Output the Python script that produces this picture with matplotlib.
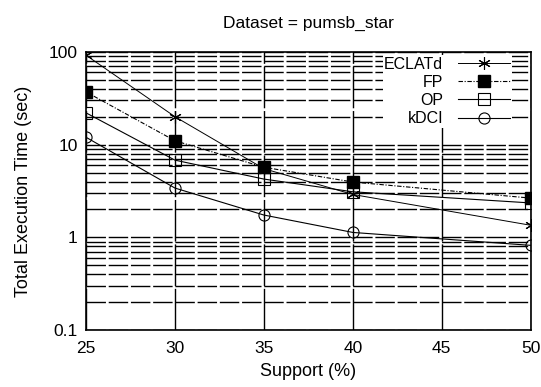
import matplotlib
matplotlib.use("Agg")
import matplotlib.pyplot as plt
from matplotlib.ticker import LogLocator, FixedLocator, NullFormatter

plt.rcParams['font.family'] = ['Liberation Sans', 'DejaVu Sans']

# data
support = [25, 30, 35, 40, 50]
eclatd = [92, 20, 5.5, 2.9, 1.35]
fp = [37, 11, 5.7, 3.95, 2.65]
op = [22, 6.8, 4.25, 3.1, 2.35]
kdci = [12, 3.4, 1.74, 1.13, 0.82]

x_ticks = [25, 30, 35, 40, 45, 50]
y_ticks = [0.1, 1, 10, 100]
y_labels = ['0.1', '1', '10', '100']

fig = plt.figure(figsize=(5.41, 3.87), dpi=100)
ax = fig.add_axes([0.159, 0.147, 0.822, 0.719])

ax.set_yscale('log')
ax.set_xlim(25, 50)
ax.set_ylim(0.1, 100)

# grid: long-dashed lines at every decade step, verticals at the x ticks
dash = (0, (14, 2))
ax.yaxis.set_major_locator(FixedLocator(y_ticks))
ax.set_yticklabels(y_labels)
ax.yaxis.set_minor_locator(LogLocator(base=10, subs=range(2, 10)))
ax.yaxis.set_minor_formatter(NullFormatter())
ax.set_xticks(x_ticks)
ax.grid(True, axis='y', which='both', color='black', linestyle=dash, linewidth=1.0)
ax.grid(True, axis='x', which='major', color='black', linestyle=(0, (30, 2)), linewidth=1.0)
ax.tick_params(which='both', length=0, labelsize=12.5)
ax.tick_params(axis='x', pad=8)
ax.tick_params(axis='y', pad=6)

ax.plot(support, eclatd, color='black', lw=0.7, marker=(6, 2, 0), ms=9, mew=0.8, label='ECLATd')
ax.plot(support, fp, color='black', lw=0.8, ls=(0, (4, 1.5, 1, 1.5)), marker='s', ms=8.5, label='FP')
ax.plot(support, op, color='black', lw=0.8, marker='s', ms=8, mfc='none', mew=0.8, label='OP')
ax.plot(support, kdci, color='black', lw=0.8, marker='o', ms=8, mfc='none', mew=0.8, label='kDCI')

for s in ax.spines.values():
    s.set_linewidth(1.2)
    s.set_color('black')

ax.set_title('Dataset = pumsb_star', fontsize=12.5, pad=17)
ax.set_xlabel('Support (%)', fontsize=13, labelpad=5)
ax.set_ylabel('Total Execution Time (sec)', fontsize=13, labelpad=12)

leg = ax.legend(loc='upper right', bbox_to_anchor=(0.965, 1.0), markerfirst=False,
                fontsize=11.5, frameon=True, fancybox=False, edgecolor='none',
                framealpha=1.0, handlelength=3.3, borderpad=0.1,
                labelspacing=0.2, handletextpad=0.9, borderaxespad=0.2)

fig.savefig('out.png', dpi=100)
